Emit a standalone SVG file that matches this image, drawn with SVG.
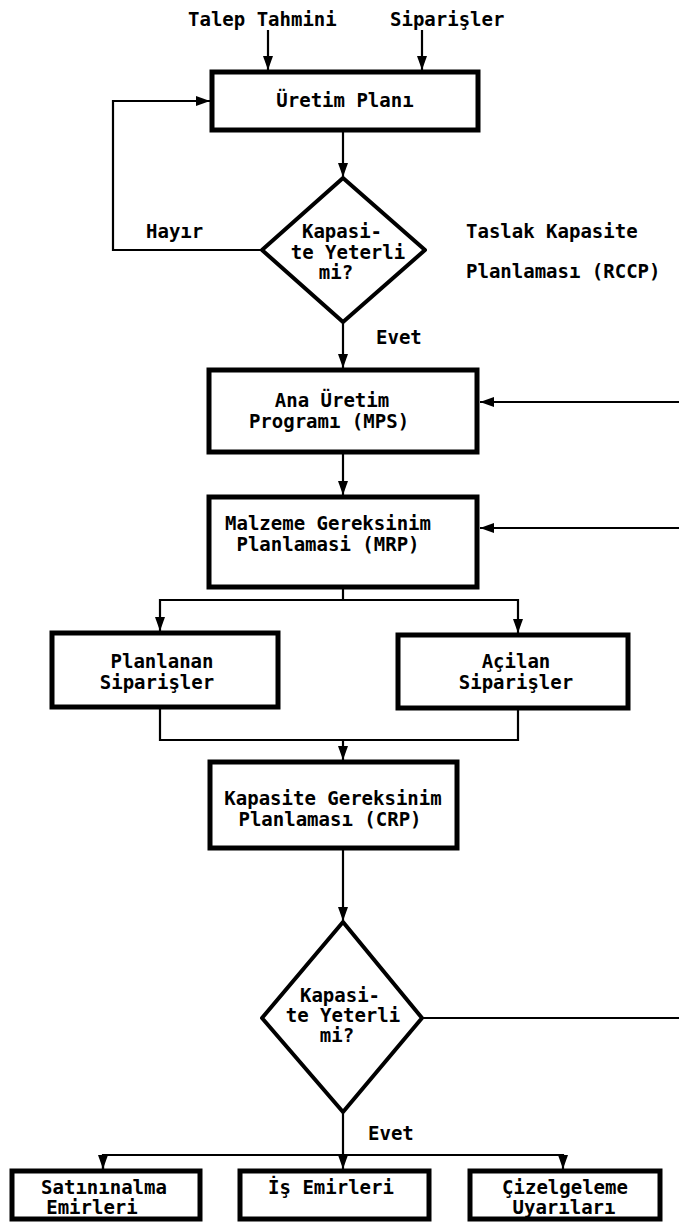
<svg xmlns="http://www.w3.org/2000/svg" width="679" height="1222" viewBox="0 0 679 1222">
<defs>
<style>
.box{fill:#fff;stroke:#000;stroke-width:5}
.dia{fill:#fff;stroke:#000;stroke-width:4;stroke-linejoin:round}
.ln{fill:none;stroke:#000;stroke-width:2.2}
text{font-family:"DejaVu Sans Mono","Liberation Mono",monospace;font-weight:bold;font-size:19px;fill:#000}
.c{text-anchor:middle}
</style>
<marker id="ah" viewBox="0 0 10 10" refX="10" refY="5" markerWidth="14" markerHeight="10" markerUnits="userSpaceOnUse" orient="auto" preserveAspectRatio="none">
<path d="M0,0 L10,5 L0,10 Z" fill="#000"/>
</marker>
</defs>
<rect width="679" height="1222" fill="#fff"/>

<g id="inputs">
<text x="188" y="26">Talep Tahmini</text>
<text x="390" y="26">Siparişler</text>
</g>

<g id="connectors">
<path class="ln" d="M268,30 V70" marker-end="url(#ah)"/>
<path class="ln" d="M422,30 V70" marker-end="url(#ah)"/>
<path class="ln" d="M343,130 V177" marker-end="url(#ah)"/>
<path class="ln" d="M262,250 H113 V101 H210" marker-end="url(#ah)"/>
<path class="ln" d="M343,322 V368" marker-end="url(#ah)"/>
<path class="ln" d="M679,402 H480" marker-end="url(#ah)"/>
<path class="ln" d="M343,452 V495" marker-end="url(#ah)"/>
<path class="ln" d="M679,528 H480" marker-end="url(#ah)"/>
<path class="ln" d="M343,588 V600 H160 V631" marker-end="url(#ah)"/>
<path class="ln" d="M343,600 H518 V633" marker-end="url(#ah)"/>
<path class="ln" d="M160,707 V740 H518 V708"/>
<path class="ln" d="M343,740 V760" marker-end="url(#ah)"/>
<path class="ln" d="M343,848 V921" marker-end="url(#ah)"/>
<path class="ln" d="M422,1018 H679"/>
<path class="ln" d="M343,1112 V1169" marker-end="url(#ah)"/>
<path class="ln" d="M103,1169 V1155 H563 V1169" marker-end="url(#ah)"/>
<path class="ln" d="M103,1156 V1169" marker-end="url(#ah)"/>
</g>

<g id="uretim-plani">
<rect class="box" x="212" y="72" width="266" height="58"/>
<text x="345" y="107" class="c">Üretim Planı</text>
</g>

<g id="karar1">
<path class="dia" d="M343,178 L425,250 L343,322 L262,250 Z"/>
<text x="342" y="238" class="c">Kapasi-</text>
<text x="348" y="259" class="c">te Yeterli</text>
<text x="336" y="279" class="c">mi?</text>
</g>

<g id="etiketler1">
<text x="146" y="238">Hayır</text>
<text x="466" y="238">Taslak Kapasite</text>
<text x="466" y="278">Planlaması (RCCP)</text>
<text x="376" y="344">Evet</text>
</g>

<g id="mps">
<rect class="box" x="209" y="370" width="268" height="82"/>
<text x="332" y="407" class="c">Ana Üretim</text>
<text x="329" y="428" class="c">Programı (MPS)</text>
</g>

<g id="mrp">
<rect class="box" x="209" y="497" width="268" height="90"/>
<text x="328" y="530" class="c">Malzeme Gereksinim</text>
<text x="328" y="551" class="c">Planlamasi (MRP)</text>
</g>

<g id="planlanan">
<rect class="box" x="52" y="633" width="226" height="74"/>
<text x="162" y="668" class="c">Planlanan</text>
<text x="157" y="689" class="c">Siparişler</text>
</g>

<g id="acilan">
<rect class="box" x="398" y="635" width="230" height="73"/>
<text x="516" y="668" class="c">Açilan</text>
<text x="516" y="689" class="c">Siparişler</text>
</g>

<g id="crp">
<rect class="box" x="210" y="762" width="247" height="86"/>
<text x="333" y="805" class="c">Kapasite Gereksinim</text>
<text x="330" y="826" class="c">Planlaması (CRP)</text>
</g>

<g id="karar2">
<path class="dia" d="M343,922 L422,1018 L343,1112 L262,1018 Z"/>
<text x="340" y="1002" class="c">Kapasi-</text>
<text x="343" y="1022" class="c">te Yeterli</text>
<text x="337" y="1042" class="c">mi?</text>
<text x="368" y="1140">Evet</text>
</g>

<g id="satinalma">
<rect class="box" x="12" y="1171" width="188" height="48"/>
<text x="104" y="1194" class="c">Satınınalma</text>
<text x="92" y="1214" class="c">Emirleri</text>
</g>

<g id="is-emirleri">
<rect class="box" x="240" y="1171" width="189" height="48"/>
<text x="331" y="1194" class="c">İş Emirleri</text>
</g>

<g id="cizelgeleme">
<rect class="box" x="470" y="1171" width="190" height="48"/>
<text x="565" y="1194" class="c">Çizelgeleme</text>
<text x="564" y="1214" class="c">Uyarıları</text>
</g>
</svg>
